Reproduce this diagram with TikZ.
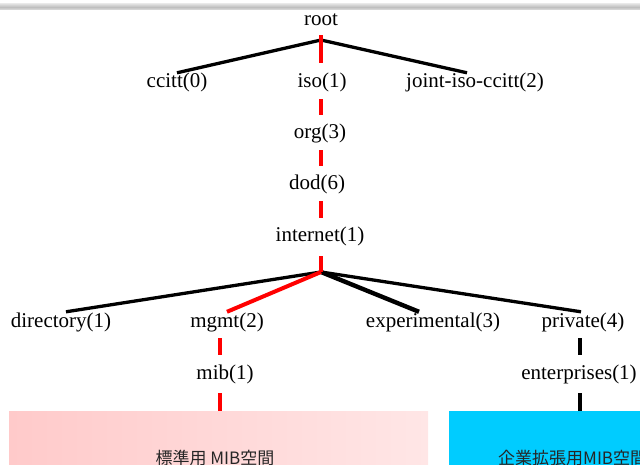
\documentclass[tikz,border=0pt]{standalone}
\usepackage{fontspec}
\setmainfont{Liberation Serif}
\newfontfamily\cjk{Noto Sans CJK JP}
\usetikzlibrary{calc}
\definecolor{netred}{HTML}{FF0000}
\definecolor{pinkL}{HTML}{FFCACA}
\definecolor{pinkR}{HTML}{FFE6E6}
\definecolor{entcyan}{HTML}{00CCFF}
\tikzset{
  lbl/.style={inner sep=0pt, text height=15pt, text depth=5pt,
              font=\fontsize{21pt}{21pt}\selectfont},
  blk/.style={line width=3.3pt, black},
  blkwide/.style={line width=4.4pt, black},
  redline/.style={line width=4pt, netred},
  vseg/.style={line width=4pt, shorten <=6pt, shorten >=9pt},
  spacebox/.style={inner sep=0pt, anchor=north west, minimum height=60pt},
  boxtext/.style={inner sep=0pt, text=black!85,
              font=\cjk\fontsize{17pt}{17pt}\selectfont}
}
\begin{document}
\begin{tikzpicture}[x=1pt, y=-1pt]
\useasboundingbox (0,0) rectangle (640,465);
\clip (0,0) rectangle (640,465);

% thin grey rule along the top edge
\shade[top color=gray!25, bottom color=gray!25, middle color=gray!50]
  (0,4) rectangle (640,10);

% node labels
\node[lbl] (root) at (321,21) {root};
\node[lbl] (ccitt) at (177,83) {ccitt(0)};
\node[lbl] (iso) at (322,83) {iso(1)};
\node[lbl] (joint) at (475,83) {joint-iso-ccitt(2)};
\node[lbl] (org) at (320,134) {org(3)};
\node[lbl] (dod) at (317,185) {dod(6)};
\node[lbl] (internet) at (320,237) {internet(1)};
\node[lbl] (directory) at (61,322) {directory(1)};
\node[lbl] (mgmt) at (227,322) {mgmt(2)};
\node[lbl] (experimental) at (433,322) {experimental(3)};
\node[lbl] (private) at (583,322) {private(4)};
\node[lbl] (mib) at (225,374) {mib(1)};
\node[lbl] (enterprises) at (579,374) {enterprises(1)};

% MIB space boxes
\node[spacebox, minimum width=419pt, left color=pinkL, right color=pinkR]
  (stdbox) at (9,411) {};
\node[spacebox, minimum width=200pt, fill=entcyan] (entbox) at (449,411) {};
\node[boxtext] (stdtext) at (215,458) {標準用 MIB空間};
\node[boxtext, anchor=west] (enttext) at (498,458) {企業拡張用MIB空間};

% branch points and the vertical spines of the tree
\coordinate (rootj) at (321,40);
\coordinate (netj) at (321,272);
\coordinate (isospine) at (321,0);
\coordinate (mibspine) at (220,0);
\coordinate (entspine) at (580,0);

% top-level branches
\draw[blk] (rootj) -- (ccitt.north);
\draw[blk] (rootj) -- ([xshift=-8pt]joint.north);

% branches below internet
\draw[blk] (netj) -- ([xshift=5pt]directory.north);
\draw[blkwide] (netj) -- ([xshift=-14pt]experimental.north);
\draw[blk] (netj) -- ([xshift=-2pt]private.north);
\draw[redline] (netj) -- (mgmt.north);

% path from the root down to mib (dashed in red)
\draw[redline, shorten <=4pt, shorten >=10pt]
  (isospine |- root.south) -- (isospine |- iso.north);
\draw[redline, vseg] (isospine |- iso.south) -- (isospine |- org.north);
\draw[redline, vseg] (isospine |- org.south) -- (isospine |- dod.north);
\draw[redline, vseg] (isospine |- dod.south) -- (isospine |- internet.north);
\draw[redline, shorten <=9pt] (isospine |- internet.south) -- (netj);
\draw[redline, vseg] (mibspine |- mgmt.south) -- (mibspine |- mib.north);
\draw[redline, shorten <=9pt] (mibspine |- mib.south) -- (mibspine |- stdbox.north);

% private branch down to enterprises
\draw[vseg, black] (entspine |- private.south) -- (entspine |- enterprises.north);
\draw[line width=4pt, black, shorten <=9pt]
  (entspine |- enterprises.south) -- (entspine |- entbox.north);
\end{tikzpicture}
\end{document}
